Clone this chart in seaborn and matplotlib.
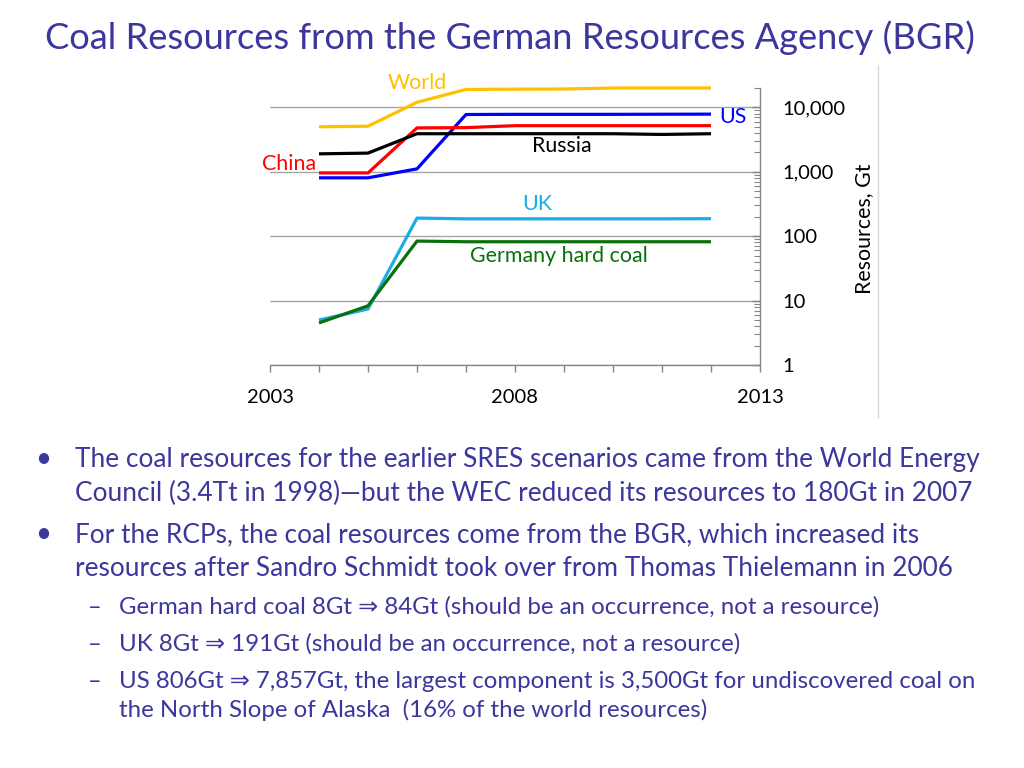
import matplotlib
matplotlib.use("Agg")
import matplotlib.pyplot as plt
from matplotlib.ticker import FixedLocator, FuncFormatter, NullFormatter
from matplotlib.lines import Line2D
import numpy as np
import pandas as pd
import seaborn as sns

# ---- data ----
years = [2004, 2005, 2006, 2007, 2008, 2009, 2010, 2011, 2012]
world = [5000, 5100, 12000, 19000, 19200, 19300, 20000, 20000, 20000]
us = [806, 806, 1110, 7750, 7800, 7800, 7800, 7830, 7857]
china = [960, 960, 4800, 4850, 5200, 5200, 5200, 5200, 5200]
russia = [1900, 1950, 3900, 3900, 3900, 3900, 3900, 3800, 3900]
uk = [5.0, 7.4, 191, 186, 186, 186, 186, 186, 187]
germany = [4.5, 8.3, 84, 82, 82, 82, 82, 82, 82]

series_names = ["World", "US", "China", "Russia", "UK", "Germany hard coal"]
series_values = [world, us, china, russia, uk, germany]
series_colors = ["#FFC000", "#0000FF", "#FF0000", "#000000", "#1AAEE6", "#0A700A"]

x_ticks = list(range(2003, 2014))
x_tick_labels = {2003: "2003", 2008: "2008", 2013: "2013"}
y_major = [1, 10, 100, 1000, 10000]
y_label = "Resources, Gt"

title = "Coal Resources from the German Resources Agency (BGR)"
bullets = [
    "The coal resources for the earlier SRES scenarios came from the World Energy",
    "Council (3.4Tt in 1998)\u2014but the WEC reduced its resources to 180Gt in 2007",
    "For the RCPs, the coal resources come from the BGR, which increased its",
    "resources after Sandro Schmidt took over from Thomas Thielemann in 2006",
]
sub_bullets = [
    "German hard coal 8Gt \u21d2 84Gt (should be an occurrence, not a resource)",
    "UK 8Gt \u21d2 191Gt (should be an occurrence, not a resource)",
    "US 806Gt \u21d2 7,857Gt, the largest component is 3,500Gt for undiscovered coal on",
    "the North Slope of Alaska  (16% of the world resources)",
]

# ---- style ----
sns.set_style("white")
plt.rcParams["font.family"] = ["Lato", "DejaVu Sans"]

W, H = 1024, 768
fig = plt.figure(figsize=(W / 100, H / 100), dpi=100)

def fx(px):
    return px / W

def fy(py):
    return 1 - py / H

ax = fig.add_axes([fx(270), fy(365), fx(760) - fx(270), fy(88) - fy(365)])

df = pd.DataFrame({
    "year": np.tile(years, len(series_names)),
    "value": np.concatenate([np.asarray(v, float) for v in series_values]),
    "series": np.repeat(series_names, len(years)),
})
sns.lineplot(data=df, x="year", y="value", hue="series", hue_order=series_names,
             palette=dict(zip(series_names, series_colors)), linewidth=2.3,
             legend=False, ax=ax, zorder=3)
for line in ax.lines:
    line.set_clip_on(False)
    line.set_solid_capstyle("butt")

ax.set_yscale("log")
ax.set_ylim(1, 20000)
ax.set_xlim(2003, 2013)

grid_c = "#A6A6A6"
tick_fs = 14.5
ax.yaxis.tick_right()
ax.yaxis.set_label_position("right")
ax.yaxis.set_major_locator(FixedLocator(y_major))
ax.yaxis.set_major_formatter(FuncFormatter(lambda v, p: f"{int(round(v)):,}"))
minors = [m * 10 ** e for e in range(0, 5) for m in range(2, 10) if m * 10 ** e <= 20000]
ax.yaxis.set_minor_locator(FixedLocator(minors))
ax.yaxis.set_minor_formatter(NullFormatter())
ax.tick_params(axis="y", which="major", direction="in", length=6, width=1,
               color="#868686", pad=16, labelsize=tick_fs, labelcolor="#000000")
ax.tick_params(axis="y", which="minor", direction="in", length=4, width=0.8,
               color="#868686")
for lbl in ax.get_yticklabels():
    lbl.set_horizontalalignment("left")

ax.xaxis.set_major_locator(FixedLocator(x_ticks))
ax.xaxis.set_major_formatter(FuncFormatter(lambda v, p: x_tick_labels.get(int(round(v)), "")))
ax.tick_params(axis="x", which="major", direction="out", length=5, width=1,
               color="#868686", pad=12, labelsize=tick_fs, labelcolor="#000000", bottom=True)

for s in ["left", "top"]:
    ax.spines[s].set_visible(False)
for s in ["right", "bottom"]:
    ax.spines[s].set_color("#868686")
    ax.spines[s].set_linewidth(1)

ax.yaxis.grid(True, which="major", color=grid_c, linewidth=1)
ax.xaxis.grid(False)
ax.set_xlabel("")
ax.set_ylabel("")
fig.text(fx(864), fy(229), y_label, rotation=90, ha="center", va="center",
         fontsize=15.4, color="#000000")

# series labels
label_pos = {
    "World": (417, 83), "US": (733, 117), "China": (289, 164),
    "Russia": (562, 146), "UK": (537, 204), "Germany hard coal": (559, 256),
}
for name, col in zip(series_names, series_colors):
    px, py = label_pos[name]
    fig.text(fx(px), fy(py), name, ha="center", va="center", fontsize=15.4, color=col)

# chart frame line on the right
fig.add_artist(Line2D([fx(878), fx(878)], [fy(65), fy(418)], color="#D9D9D9", linewidth=1))

# title and bullets
text_c = "#3B379C"
fig.text(fx(45), fy(49), title, ha="left", va="baseline", fontsize=26.1, color=text_c)

main_y = [467, 501, 542, 576]
main_bullet = [True, False, True, False]
for t, y, b in zip(bullets, main_y, main_bullet):
    if b:
        fig.text(fx(35), fy(y), "\u2022", ha="left", va="baseline", fontsize=20, color=text_c)
    fig.text(fx(75), fy(y), t, ha="left", va="baseline", fontsize=18.9, color=text_c)

sub_y = [614, 651, 688, 717]
sub_dash = [True, True, True, False]
for t, y, d in zip(sub_bullets, sub_y, sub_dash):
    if d:
        fig.text(fx(88), fy(y), "\u2013", ha="left", va="baseline", fontsize=17, color=text_c)
    fig.text(fx(119), fy(y), t, ha="left", va="baseline", fontsize=17.3, color=text_c)

fig.savefig("out.png", dpi=100, facecolor="white")
